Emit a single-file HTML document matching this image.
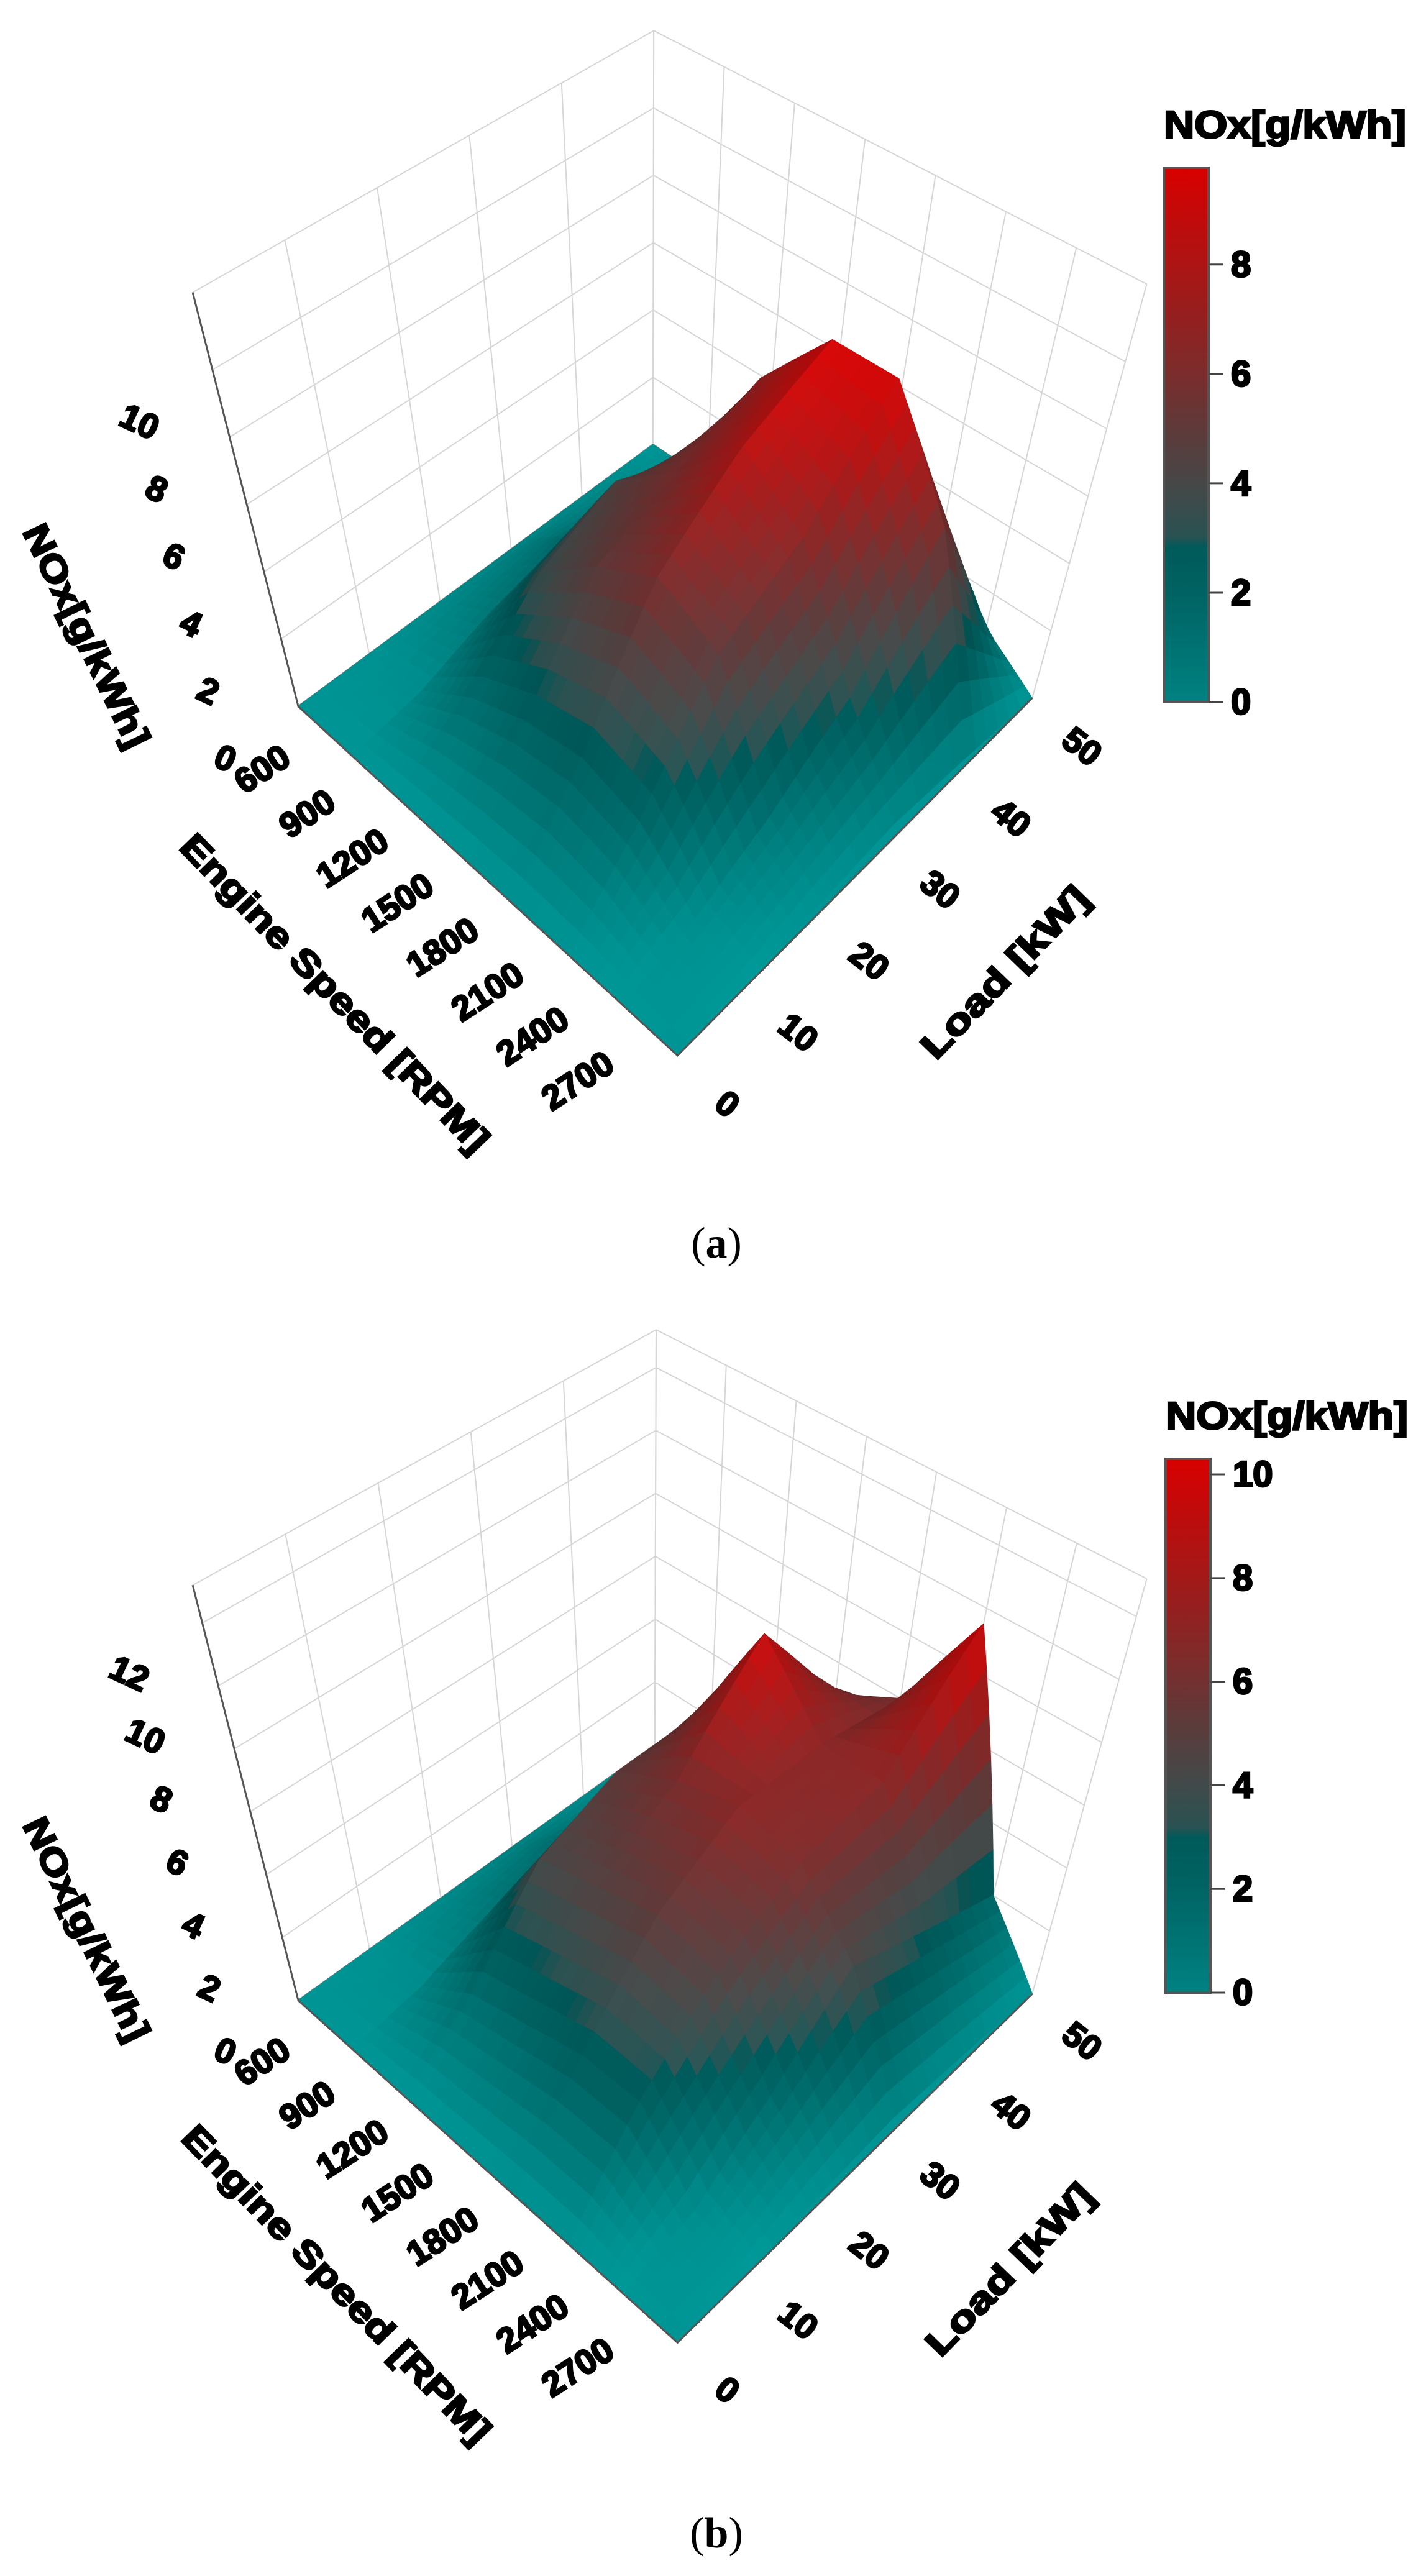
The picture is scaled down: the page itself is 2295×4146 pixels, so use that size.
<!DOCTYPE html>
<html><head><meta charset="utf-8">
<style>html,body{margin:0;padding:0;background:#fff;}svg{display:block}</style>
</head><body>
<svg id="fig" xmlns="http://www.w3.org/2000/svg" width="2295" height="4146" viewBox="0 0 2295 4146">
<rect width="2295" height="4146" fill="#fff"/>
<defs>
<linearGradient id="cbgrad" x1="0" y1="1" x2="0" y2="0">
<stop offset="0" stop-color="#008282"/><stop offset="0.2" stop-color="#006363"/>
<stop offset="0.29" stop-color="#005a5a"/><stop offset="0.31" stop-color="#2a5252"/>
<stop offset="0.41" stop-color="#474747"/><stop offset="0.51" stop-color="#5e3a3a"/>
<stop offset="0.61" stop-color="#7a2d2d"/><stop offset="0.72" stop-color="#951f1f"/>
<stop offset="0.82" stop-color="#ad1414"/><stop offset="1" stop-color="#d80000"/>
</linearGradient>
</defs>
</svg>
<script>
// ---- data ----
const speeds = [600, 900, 1200, 1500, 1800, 2100, 2400, 2700];
const loads = [0, 10, 20, 30, 40, 50];
const noxA = [
 [0,0,0,0,0,0],
 [0,0.3,1,1.5,1,0],
 [0,1.5,3.5,4.5,3.5,0.5],
 [0,2.2,5,6,7,2],
 [0,2.5,6,8,9.3,4],
 [0,2,5,6.5,9.3,2.5],
 [0,0.5,1.5,3,6,1],
 [0,0,0.3,0.5,0.3,0]
];
const noxB = [
 [0,0,0,0,0,0],
 [0,0.3,1,1.5,1,0],
 [0,1.5,4,5,5,1],
 [0,2,4.5,6,8.8,5],
 [0,2.5,5,6.5,6.5,6],
 [0,2.5,4.5,6,6.5,9.5],
 [0,0.5,2,4,3,2],
 [0,0,0.3,0.5,0.3,0]
];
const zTicksA = [0,2,4,6,8,10];
const zTicksB = [0,2,4,6,8,10,12];
const cbTicksA = [0,2,4,6,8];
const cbTicksB = [0,2,4,6,8,10];

const NS = 'http://www.w3.org/2000/svg';
const svg = document.getElementById('fig');
function mk(tag, attrs, parent){const e=document.createElementNS(NS,tag);for(const k in attrs)e.setAttribute(k,attrs[k]);(parent||svg).appendChild(e);return e;}

const cmapStops=[[0,[0,145,145]],[2,[0,100,100]],[2.85,[0,86,86]],[3.05,[42,82,82]],[4,[72,72,72]],[5,[95,58,58]],[6,[122,45,45]],[7,[150,32,32]],[8,[178,20,20]],[10,[225,0,0]]];
function cmap(z){
  if(z<=0)return cmapStops[0][1].slice();
  for(let i=1;i<cmapStops.length;i++){if(z<=cmapStops[i][0]){const a=cmapStops[i-1],b=cmapStops[i];const t=(z-a[0])/(b[0]-a[0]);return a[1].map((c,k)=>c+(b[1][k]-c)*t);}}
  return cmapStops[cmapStops.length-1][1].slice();
}

function drawPanel(cfg){
  const g = mk('g',{});
  
  
  const R=(x,y)=>[x*1.4636, cfg.oy + y*cfg.ky];
  const L=cfg.L,B=cfg.B,Rt=cfg.R,T=cfg.T;
  function floorP(u,v){return [L[0]*(1-u)*(1-v)+B[0]*u*(1-v)+Rt[0]*u*v+T[0]*(1-u)*v, L[1]*(1-u)*(1-v)+B[1]*u*(1-v)+Rt[1]*u*v+T[1]*(1-u)*v];}
  function proj(u,v,z){const f=floorP(u,v);return R(f[0]+(f[0]-715)*0.3*(z/cfg.zmax), f[1]-cfg.s*z);}
  const uOf=s=>(s-speeds[0])/(speeds[speeds.length-1]-speeds[0]);
  const vOf=l=>(l-loads[0])/(loads[loads.length-1]-loads[0]);
  const pts=a=>a.map(p=>p[0].toFixed(1)+','+p[1].toFixed(1)).join(' ');
  const grid=mk('g',{stroke:'#d6d6d6','stroke-width':2,fill:'none'},g);
  
  
  loads.forEach(l=>{if(l===0)return;const v=vOf(l);mk('line',{x1:proj(0,v,0)[0],y1:proj(0,v,0)[1],x2:proj(0,v,cfg.zmax)[0],y2:proj(0,v,cfg.zmax)[1]},grid);});
  speeds.forEach(s=>{const u=uOf(s);mk('line',{x1:proj(u,1,0)[0],y1:proj(u,1,0)[1],x2:proj(u,1,cfg.zmax)[0],y2:proj(u,1,cfg.zmax)[1]},grid);});
  cfg.zTicks.concat([cfg.zmax]).forEach(z=>{if(z===0)return;
    mk('polyline',{points:pts([proj(0,0,z),proj(0,1,z),proj(1,1,z)])},grid);});
  mk('polyline',{points:pts([proj(0,0,0),proj(0,1,0),proj(1,1,0)]),stroke:'#777','stroke-width':3,fill:'none'},g);
  const fl=mk('polygon',{points:pts([proj(0,0,0),proj(1,0,0),proj(1,1,0),proj(0,1,0)]),fill:'rgb(0,148,148)'},g);
  
  
  const Z=cfg.data, n=6, cells=[];
  const zat=(i,j,a,b)=>Z[i][j]*(1-a)*(1-b)+Z[i+1][j]*a*(1-b)+Z[i+1][j+1]*a*b+Z[i][j+1]*(1-a)*b;
  for(let i=0;i<speeds.length-1;i++)for(let j=0;j<loads.length-1;j++)for(let p=0;p<n;p++)for(let q=0;q<n;q++){
    const a0=p/n,a1=(p+1)/n,b0=q/n,b1=(q+1)/n;
    const su=uOf(speeds[i]),eu=uOf(speeds[i+1]),sv=vOf(loads[j]),ev=vOf(loads[j+1]);
    const u0=su+(eu-su)*a0,u1=su+(eu-su)*a1,v0=sv+(ev-sv)*b0,v1=sv+(ev-sv)*b1;
    const z00=zat(i,j,a0,b0),z10=zat(i,j,a1,b0),z11=zat(i,j,a1,b1),z01=zat(i,j,a0,b1);
    const zc=(z00+z10+z11+z01)/4;
    const du=(u1-u0)*14, dv=(v1-v0)*14;
    const gu=((z10+z11)-(z00+z01))/2/du, gv=((z01+z11)-(z00+z10))/2/dv;
    let nx=-gu,ny=-gv,nz=1;const nl=Math.hypot(nx,ny,nz);nx/=nl;ny/=nl;nz/=nl;
    const lx=0.45,ly=-0.3,lz=0.84;
    const d=Math.max(0,nx*lx+ny*ly+nz*lz);
    const m=0.8+0.27*d;
    const c=cmap(zc).map(x=>Math.min(255,Math.round(x*m)));
    const depth=floorP((u0+u1)/2,(v0+v1)/2)[1];
    cells.push({depth,poly:[proj(u0,v0,z00),proj(u1,v0,z10),proj(u1,v1,z11),proj(u0,v1,z01)],col:'rgb('+c.join(',')+')'});
  }
  cells.sort((a,b)=>a.depth-b.depth);
  const sg=mk('g',{},g);
  
  
  cells.forEach(c=>{mk('polygon',{points:pts(c.poly),fill:c.col,stroke:c.col,'stroke-width':1.5,'stroke-linejoin':'round'},sg);});
  const ax=mk('g',{stroke:'#555','stroke-width':3,fill:'none'},g);
  
  
  mk('polyline',{points:pts([proj(0,0,cfg.zmax),proj(0,0,0),proj(1,0,0),proj(1,1,0)])},ax);
  const txt=(x,y,s,rot,size,name,extra)=>{const t=mk('text',Object.assign({x:0,y:0,transform:`translate(${x.toFixed(1)},${y.toFixed(1)}) rotate(${rot})`,'font-family':'"Liberation Sans",Arial,sans-serif','font-weight':'bold','font-size':size,'text-anchor':'middle','dominant-baseline':'central',fill:'#000',stroke:'#000','stroke-width':3},extra||{}),g);t.textContent=s;return t;};
  cfg.zTicks.forEach(z=>{const f=floorP(0,0);const px=f[0]+(f[0]-715)*0.3*(z/cfg.zmax)-80, py=f[1]-cfg.s*z+62;const p=R(px,py);txt(p[0],p[1],String(z),25,56,'z-tick-label');});
  speeds.forEach(s=>{const u=uOf(s);const f=floorP(u,0);const p=R(f[0]-40-70*u,f[1]+75-45*u);txt(p[0],p[1],String(s),-33,56,'speed-tick-label');});
  loads.forEach(l=>{const v=vOf(l);const f=floorP(1,v);const p=R(f[0]+55,f[1]+58);txt(p[0],p[1],String(l),38,56,'load-tick-label');});
  let p=R(cfg.tN[0],cfg.tN[1]);txt(p[0],p[1],'NOx[g/kWh]',64,58,'z-axis-title',{textLength:392,lengthAdjust:'spacingAndGlyphs'});
  p=R(cfg.tS[0],cfg.tS[1]);txt(p[0],p[1],'Engine Speed [RPM]',46,58,'x-axis-title',{textLength:686,lengthAdjust:'spacingAndGlyphs'});
  p=R(cfg.tL[0],cfg.tL[1]);txt(p[0],p[1],'Load [kW]',-46,58,'y-axis-title',{textLength:360,lengthAdjust:'spacingAndGlyphs'});
  const cb=cfg.cb;
  const cg=mk('g',{},g);
  
  
  mk('rect',{x:cb.x,y:cb.top,width:72,height:cb.bot-cb.top,fill:'url(#cbgrad)',stroke:'#555','stroke-width':4},cg);
  const per=(cb.bot-cb.top)/cb.max;
  cfg.cbTicks.forEach(t=>{const y=cb.bot-per*t;mk('line',{x1:cb.x+72,y1:y,x2:cb.x+96,y2:y,stroke:'#444','stroke-width':3},cg);
    const tt=mk('text',{x:cb.x+108,y:y,'font-family':'"Liberation Sans",Arial,sans-serif','font-weight':'bold','font-size':58,'dominant-baseline':'central',stroke:'#000','stroke-width':3},cg);tt.textContent=String(t);});
  const ct=mk('text',{x:cb.x,y:cb.titleY,'font-family':'"Liberation Sans",Arial,sans-serif','font-weight':'bold','font-size':62,textLength:390,lengthAdjust:'spacingAndGlyphs',stroke:'#000','stroke-width':3},cg);ct.textContent='NOx[g/kWh]';
  
  const cap=mk('text',{x:1153,y:cfg.capY,'font-family':'"Liberation Serif","Times New Roman",serif','font-size':70,'text-anchor':'middle','dominant-baseline':'central'},g);
  cap.innerHTML='(<tspan font-weight="bold">'+cfg.cap+'</tspan>)';
  
}

drawPanel({name:'panel-a',oy:0,ky:1.3376,L:[328,850],B:[745,1270],R:[1135,840],T:[718,535],s:40.5,zmax:12.3,data:noxA,zTicks:zTicksA,cbTicks:cbTicksA,
  tN:[95,765],tS:[368,1195],tL:[1105,1170],cb:{x:1873,top:270,bot:1130,max:9.77,titleY:222},cap:'a',capY:2001});
drawPanel({name:'panel-b',oy:2100,ky:1.305,L:[328,858],B:[745,1280],R:[1135,850],T:[720,543],s:38.8,zmax:13.2,data:noxB,zTicks:zTicksB,cbTicks:cbTicksB,
  tN:[95,770],tS:[370,1208],tL:[1110,1190],cb:{x:1876,top:2348,bot:3207,max:10.3,titleY:2300},cap:'b',capY:4077});
</script>
</body></html>
